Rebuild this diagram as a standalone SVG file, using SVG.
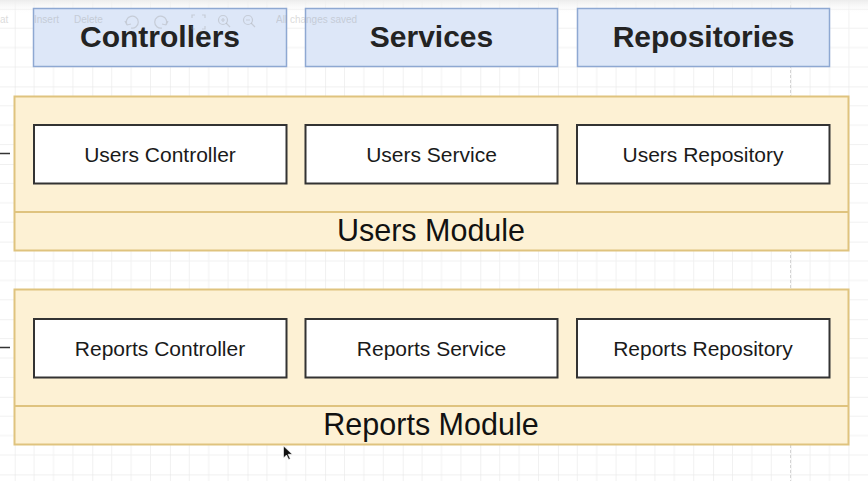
<svg xmlns="http://www.w3.org/2000/svg" width="868" height="481" viewBox="0 0 868 481">
  <defs>
    <!-- canvas grid: minor cells 19.4px, major line every 4 cells -->
    <pattern id="grid" x="14.7" y="8.8" width="77.6" height="77.6" patternUnits="userSpaceOnUse">
      <path d="M0 0V77.6M19.4 0V77.6M38.8 0V77.6M58.2 0V77.6M0 0H77.6M0 19.4H77.6M0 38.8H77.6M0 58.2H77.6" fill="none" stroke="#f1f1f1" stroke-width="1"/>
      <path d="M0 0V77.6M0 0H77.6" fill="none" stroke="#e7e7e7" stroke-width="1"/>
    </pattern>
    <linearGradient id="bar" x1="0" y1="0" x2="0" y2="1">
      <stop offset="0" stop-color="#ececec"/>
      <stop offset="1" stop-color="#ffffff" stop-opacity="0"/>
    </linearGradient>
    <style>
      .layer { fill: #dde7f8; stroke: #8ea8d2; stroke-width: 1.5; }
      .layer-label { font-family: "Liberation Sans", Arial, sans-serif; font-size: 30px; font-weight: bold; fill: #232323; text-anchor: middle; }
      .module { fill: #fdf1d4; stroke: #dfc37e; stroke-width: 2; }
      .module-label { font-family: "Liberation Sans", Arial, sans-serif; font-size: 30.5px; fill: #111; text-anchor: middle; }
      .part { fill: #ffffff; stroke: #333333; stroke-width: 2; }
      .part-label { font-family: "Liberation Sans", Arial, sans-serif; font-size: 21px; fill: #1a1a1a; text-anchor: middle; }
      .stub { stroke: #333; stroke-width: 1.5; fill: none; }
      .toolbar { font-family: "Liberation Sans", Arial, sans-serif; font-size: 10px; fill: #9a9a9a; opacity: 0.35; }
      .toolbar-icon { fill: none; stroke: #9a9a9a; stroke-width: 1.2; opacity: 0.35; }
    </style>
  </defs>

  <!-- canvas -->
  <rect width="868" height="481" fill="#ffffff"/>
  <rect width="868" height="481" fill="url(#grid)"/>
  <line x1="790.5" y1="0" x2="790.5" y2="481" stroke="#d4d4d4" stroke-width="1" stroke-dasharray="3 2"/>
  <rect width="868" height="14" fill="url(#bar)"/>

  <!-- layer headers -->
  <g id="controllers-header">
    <rect class="layer" x="33.5" y="8.5" width="253" height="58"/>
    <text class="layer-label" x="160" y="47">Controllers</text>
  </g>
  <g id="services-header">
    <rect class="layer" x="305.5" y="8.5" width="252" height="58"/>
    <text class="layer-label" x="431.5" y="47">Services</text>
  </g>
  <g id="repositories-header">
    <rect class="layer" x="577.5" y="8.5" width="252" height="58"/>
    <text class="layer-label" x="703.5" y="47">Repositories</text>
  </g>

  <!-- connectors (stubs entering from the left) -->
  <g id="connectors">
    <line class="stub" x1="0" y1="153.5" x2="10" y2="153.5"/>
    <line class="stub" x1="0" y1="347.5" x2="10" y2="347.5"/>
  </g>

  <!-- users module -->
  <g id="users-module">
    <rect class="module" x="14.5" y="96.5" width="834" height="154"/>
    <line class="module" x1="14.5" y1="212" x2="848.5" y2="212"/>
    <text class="module-label" x="431" y="241">Users Module</text>
  </g>
  <g id="users-controller">
    <rect class="part" x="34" y="125" width="252.5" height="58.5"/>
    <text class="part-label" x="160" y="161.5">Users Controller</text>
  </g>
  <g id="users-service">
    <rect class="part" x="305.5" y="125" width="252" height="58.5"/>
    <text class="part-label" x="431.5" y="161.5">Users Service</text>
  </g>
  <g id="users-repository">
    <rect class="part" x="577" y="125" width="252.5" height="58.5"/>
    <text class="part-label" x="703" y="161.5">Users Repository</text>
  </g>

  <!-- reports module -->
  <g id="reports-module">
    <rect class="module" x="14.5" y="289.5" width="834" height="155"/>
    <line class="module" x1="14.5" y1="406" x2="848.5" y2="406"/>
    <text class="module-label" x="431" y="435">Reports Module</text>
  </g>
  <g id="reports-controller">
    <rect class="part" x="34" y="319" width="252.5" height="58.5"/>
    <text class="part-label" x="160" y="355.5">Reports Controller</text>
  </g>
  <g id="reports-service">
    <rect class="part" x="305.5" y="319" width="252" height="58.5"/>
    <text class="part-label" x="431.5" y="355.5">Reports Service</text>
  </g>
  <g id="reports-repository">
    <rect class="part" x="577" y="319" width="252.5" height="58.5"/>
    <text class="part-label" x="703" y="355.5">Reports Repository</text>
  </g>

  <!-- faded editor toolbar over the top edge -->
  <g id="toolbar">
    <text class="toolbar" x="0" y="23">at</text>
    <text class="toolbar" x="34" y="23">Insert</text>
    <text class="toolbar" x="74" y="23">Delete</text>
    <path class="toolbar-icon" d="M127 25a6 6 0 1 1 4 3M127 25l-2-4M127 25l4-1"/>
    <path class="toolbar-icon" d="M166 25a6 6 0 1 0-4 3M166 25l2-4M166 25l-4-1"/>
    <path class="toolbar-icon" d="M192 18v-3h3M205 18v-3h-3M192 26v3h3M205 26v3h-3"/>
    <circle class="toolbar-icon" cx="223" cy="20" r="4.5"/>
    <path class="toolbar-icon" d="M226 23l4 4M221 20h4M223 18v4"/>
    <circle class="toolbar-icon" cx="248" cy="20" r="4.5"/>
    <path class="toolbar-icon" d="M251 23l4 4M246 20h4"/>
    <text class="toolbar" x="276" y="23">All changes saved</text>
  </g>

  <!-- mouse pointer -->
  <path d="M283.5 446v12l3-3 2.2 4.5 1.6-.8-2.2-4.4h4.2z" fill="#111" stroke="#fff" stroke-width="0.6"/>
</svg>
